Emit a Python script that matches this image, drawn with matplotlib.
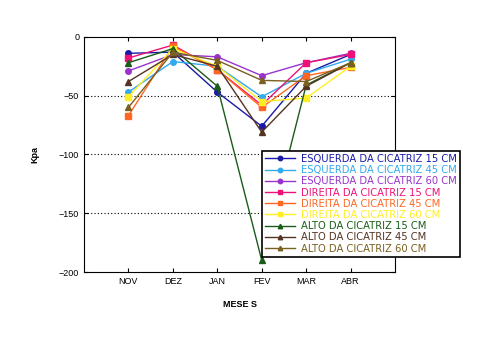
import numpy as np
import matplotlib.pyplot as plt

plt.rcParams['font.family'] = ['Liberation Sans', 'DejaVu Sans']

months = ['NOV', 'DEZ', 'JAN', 'FEV', 'MAR', 'ABR']

esq15 = [-14, -13, -47, -76, -31, -15]
esq45 = [-47, -21, -25, -51, -31, -19]
esq60 = [-29, -15, -17, -33, -22, -14]
dir15 = [-18, -7, -28, -58, -22, -15]
dir45 = [-67, -8, -28, -60, -33, -26]
dir60 = [-51, -10, -25, -55, -52, -25]
alto15 = [-22, -10, -42, -190, -41, -22]
alto45 = [-38, -15, -25, -81, -42, -22]
alto60 = [-60, -13, -20, -37, -38, -22]

series = [
    ('ESQUERDA DA CICATRIZ 15 CM', esq15, '#1a1aa6', 'o'),
    ('ESQUERDA DA CICATRIZ 45 CM', esq45, '#33aaee', 'o'),
    ('ESQUERDA DA CICATRIZ 60 CM', esq60, '#9933cc', 'o'),
    ('DIREITA DA CICATRIZ 15 CM', dir15, '#ee1177', 's'),
    ('DIREITA DA CICATRIZ 45 CM', dir45, '#ff6622', 's'),
    ('DIREITA DA CICATRIZ 60 CM', dir60, '#ffee22', 's'),
    ('ALTO DA CICATRIZ 15 CM', alto15, '#1a5c1a', '^'),
    ('ALTO DA CICATRIZ 45 CM', alto45, '#553322', '^'),
    ('ALTO DA CICATRIZ 60 CM', alto60, '#7a6020', '^'),
]

fig = plt.figure(figsize=(4.8, 3.38), dpi=100)
ax = fig.add_axes([0.175, 0.195, 0.648, 0.696])

x = np.arange(1, len(months) + 1)
for label, vals, color, marker in series:
    ax.plot(x, vals, color=color, marker=marker, markersize=4, linewidth=1, label=label)

ax.set_xlim(0, 7)
ax.set_ylim(-200, 0)
ax.set_xticks(x)
ax.set_xticklabels(months, fontsize=6.5)
ax.set_yticks([0, -50, -100, -150, -200])
ax.tick_params(axis='y', labelsize=6.5)
ax.tick_params(direction='in', top=True, right=True, length=3)
for v in [-50, -100, -150]:
    ax.axhline(v, color='black', linestyle=(0, (1, 2)), linewidth=0.8, zorder=0)

ax.set_xlabel('MESE S', fontsize=6.5, fontweight='bold', labelpad=10)
ax.set_ylabel('Kpa', fontsize=6.5, fontweight='bold', labelpad=14)

leg = ax.legend(loc='upper left', bbox_to_anchor=(0.572, 0.515),
                prop={'family': 'DejaVu Sans', 'size': 7.2},
                frameon=True, fancybox=False, edgecolor='black', framealpha=1,
                labelspacing=0.12, handlelength=3.0, borderpad=0.3,
                handletextpad=0.6, borderaxespad=0, markerscale=0.8)
leg.get_frame().set_linewidth(1.2)
for text, s in zip(leg.get_texts(), series):
    text.set_color(s[2])

fig.savefig('out.png', dpi=100)
